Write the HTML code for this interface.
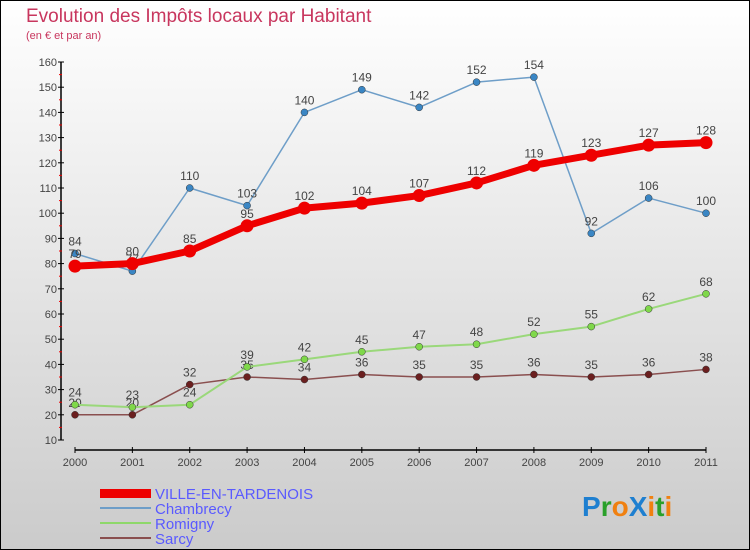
<!DOCTYPE html>
<html><head><meta charset="utf-8"><style>
body{margin:0}
#c{width:750px;height:550px;position:relative;overflow:hidden;font-family:"Liberation Sans",sans-serif}
</style></head><body>
<div id="c">
<svg width="750" height="550" id="svg">
<defs><linearGradient id="bg" x1="0" y1="0" x2="0" y2="1"><stop offset="0" stop-color="#ffffff"/><stop offset="1" stop-color="#cbcbcb"/></linearGradient></defs>
<rect x="0.5" y="0.5" width="749" height="549" fill="url(#bg)" stroke="#000"/>
<text x="26" y="22" font-size="19" fill="#c8365e">Evolution des Impôts locaux par Habitant</text>
<text x="26" y="39" font-size="11" fill="#c8365e">(en € et par an)</text>
<g id="axes"></g>
<g id="series"></g>
<g>
<rect x="100" y="489" width="51" height="9" fill="#e00"/>
<text x="155" y="499" font-size="15" fill="#5a5aff">VILLE-EN-TARDENOIS</text>
<line x1="100" y1="508" x2="151" y2="508" stroke="#6e9ec8" stroke-width="2"/>
<text x="155" y="514" font-size="15" fill="#5a5aff">Chambrecy</text>
<line x1="100" y1="523" x2="151" y2="523" stroke="#8ed86a" stroke-width="2"/>
<text x="155" y="529" font-size="15" fill="#5a5aff">Romigny</text>
<line x1="100" y1="538" x2="151" y2="538" stroke="#8a4f4f" stroke-width="2"/>
<text x="155" y="544" font-size="15" fill="#5a5aff">Sarcy</text>
</g>
<g font-size="28" font-weight="bold">
<text x="582" y="516"><tspan fill="#1e7fd0">P</tspan><tspan fill="#2aa02a">r</tspan><tspan fill="#f08010">o</tspan><tspan fill="#1e7fd0">X</tspan><tspan fill="#f08010">i</tspan><tspan fill="#2aa02a">t</tspan><tspan fill="#f08010">i</tspan></text>
</g>
</svg>
</div>
<script>
const years=["2000","2001","2002","2003","2004","2005","2006","2007","2008","2009","2010","2011"];
const yTicks=[10,20,30,40,50,60,70,80,90,100,110,120,130,140,150,160];
const ville=[79,80,85,95,102,104,107,112,119,123,127,128];
const chambrecy=[84,77,110,103,140,149,142,152,154,92,106,100];
const romigny=[24,23,24,39,42,45,47,48,52,55,62,68];
const sarcy=[20,20,32,35,34,36,35,35,36,35,36,38];
const NS="http://www.w3.org/2000/svg";
function xS(i){return 75+i*(706-75)/11;}
function yS(v){return 440-(v-10)*(378/150);}
function mk(t,a,p){const e=document.createElementNS(NS,t);for(const k in a)e.setAttribute(k,a[k]);p.appendChild(e);return e;}
const ax=document.getElementById('axes');
const yl=mk('line',{x1:61,y1:yS(160),x2:61,y2:yS(10),stroke:'#000','stroke-width':1.5},ax);


yTicks.forEach(v=>{
 const y=yS(v);
 mk('line',{x1:58,y1:y,x2:64,y2:y,stroke:'#000'},ax);
 if(v<160)mk('line',{x1:59,y1:y-12.6,x2:62,y2:y-12.6,stroke:'#e00'},ax);
 const t=mk('text',{x:57,y:y+4,'font-size':11,fill:'#444','text-anchor':'end'},ax);t.textContent=v;
 
 
});
const xl=mk('line',{x1:75,y1:450,x2:706,y2:450,stroke:'#000','stroke-width':1.5},ax);


years.forEach((yr,i)=>{
 const x=xS(i);
 mk('line',{x1:x,y1:447,x2:x,y2:453,stroke:'#000'},ax);
 const t=mk('text',{x:x,y:466,'font-size':11,fill:'#444','text-anchor':'middle'},ax);t.textContent=yr;
 
 
});
const sg=document.getElementById('series');
function draw(name,data,color,w,r,dot,lab){
 const g=mk('g',{},sg);
 
 
 const pl=mk('polyline',{points:data.map((v,i)=>xS(i)+','+yS(v)).join(' '),fill:'none',stroke:color,'stroke-width':w,'stroke-linejoin':'round'},g);
 
 
 data.forEach((v,i)=>{
  const c=mk('circle',{cx:xS(i),cy:yS(v),r:r,fill:dot,stroke:'#333','stroke-width':w>3?0:0.5},g);
  
  
  const t=mk('text',{x:xS(i),y:yS(v)-8,'font-size':12,fill:'#444','text-anchor':'middle'},g);t.textContent=v;
  
  
 });
}
draw('sarcy',sarcy,'#8a4f4f',1.5,3.5,'#6b1f1f');
draw('romigny',romigny,'#9ad87a',2,3.5,'#7fd84a');
draw('chambrecy',chambrecy,'#6e9ec8',1.5,3.5,'#3a86c4');
draw('ville',ville,'#ee0000',7,6.5,'#ee0000');
</script>
</body></html>
